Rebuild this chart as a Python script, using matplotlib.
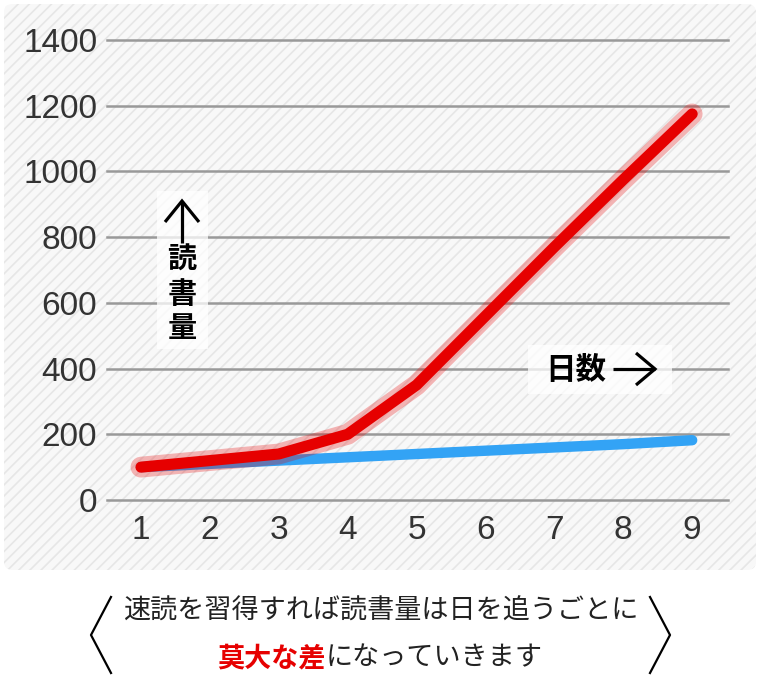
import matplotlib.pyplot as plt
from matplotlib.patches import FancyBboxPatch, Rectangle
from matplotlib.lines import Line2D

plt.rcParams['font.family'] = ['Noto Sans CJK JP', 'DejaVu Sans']
plt.rcParams['hatch.linewidth'] = 1.2

# データ
days = [1, 2, 3, 4, 5, 6, 7, 8, 9]
speed_reading = [100, 120, 140, 200, 350, 560, 770, 975, 1175]
normal_reading = [100, 110, 120, 130, 140, 150, 160, 170, 182]
y_ticks = [0, 200, 400, 600, 800, 1000, 1200, 1400]

W, H = 760, 675
fig = plt.figure(figsize=(W / 100, H / 100), dpi=100)

def fx(px):
    return px / W

def fy(py):
    return 1 - py / H

# 背景の斜線パネル
panel = FancyBboxPatch((fx(4), fy(570)), fx(752), 566 / H,
                       boxstyle='round,pad=0,rounding_size=0.012',
                       transform=fig.transFigure, facecolor='#f8f8f8',
                       edgecolor='#e6e6e6', hatch='///', linewidth=0, zorder=-5)
fig.patches.append(panel)

ax = fig.add_axes([fx(107), fy(500), fx(728) - fx(107), (500 - 40) / H])
ax.set_zorder(2)
ax.set_facecolor('none')
ax.set_xlim(0.507, 9.52)
ax.set_ylim(0, 1400)
ax.set_yticks(y_ticks)
ax.set_xticks(days)
for s in ax.spines.values():
    s.set_visible(False)
ax.tick_params(length=0, labelsize=24, labelcolor='#333333')
ax.tick_params(axis='y', pad=7)
ax.tick_params(axis='x', pad=11)
for lab in ax.get_xticklabels() + ax.get_yticklabels():
    lab.set_family(['Liberation Sans', 'DejaVu Sans'])
ax.grid(axis='y', color='#999999', linewidth=1.8)
ax.grid(axis='x', visible=False)
for gl in ax.get_ygridlines():
    gl.set_clip_on(False)
ax.set_axisbelow(True)

ax.plot(days, normal_reading, color='#33a3f5', linewidth=7.5,
        solid_capstyle='round', solid_joinstyle='round', zorder=3)
ax.plot(days, speed_reading, color='#e60000', linewidth=15, alpha=0.28,
        solid_capstyle='round', solid_joinstyle='round', zorder=4)
ax.plot(days, speed_reading, color='#e60000', linewidth=8,
        solid_capstyle='round', solid_joinstyle='round', zorder=5)

# 軸の説明（白い箱）
for x0, y0, x1, y1 in [(157, 191, 208, 349), (528, 345, 672, 394)]:
    fig.patches.append(Rectangle((fx(x0), fy(y1)), fx(x1 - x0), (y1 - y0) / H,
                                 transform=fig.transFigure, facecolor='white',
                                 alpha=0.75, edgecolor='none', zorder=6))

for ch, yc in [('読', 260), ('書', 294), ('量', 328)]:
    fig.text(fx(182), fy(yc), ch, ha='center', va='center', fontsize=21,
             fontweight='bold', color='black', zorder=7)
fig.text(fx(576), fy(370), '日数', ha='center', va='center',
         fontsize=22, fontweight='bold', color='black', zorder=7)

# 矢印
arrow_kw = dict(transform=fig.transFigure, color='black', linewidth=2.3,
                solid_capstyle='butt', solid_joinstyle='miter', zorder=7)
fig.lines.append(Line2D([fx(182), fx(182)], [fy(243), fy(201)], **arrow_kw))
fig.lines.append(Line2D([fx(165), fx(182), fx(199)], [fy(222), fy(201), fy(222)], **arrow_kw))
fig.lines.append(Line2D([fx(613), fx(655)], [fy(369), fy(369)], **arrow_kw))
fig.lines.append(Line2D([fx(636), fx(655), fx(636)], [fy(353), fy(369), fy(385)], **arrow_kw))

# キャプション
fig.text(fx(381), fy(611), '速読を習得すれば読書量は日を追うごとに',
         ha='center', va='center', fontsize=19.5, color='#222222')
fig.text(fx(326), fy(658), '莫大な差', ha='right', va='center',
         fontsize=19.5, color='#e60000', fontweight='bold')
fig.text(fx(326), fy(658), 'になっていきます', ha='left', va='center',
         fontsize=19.5, color='#222222')

for xs in ([111, 91, 111], [650, 670, 650]):
    fig.lines.append(Line2D([fx(v) for v in xs], [fy(597), fy(635), fy(673)],
                            transform=fig.transFigure, color='black',
                            linewidth=1.6))

fig.savefig('out.png', dpi=100)
